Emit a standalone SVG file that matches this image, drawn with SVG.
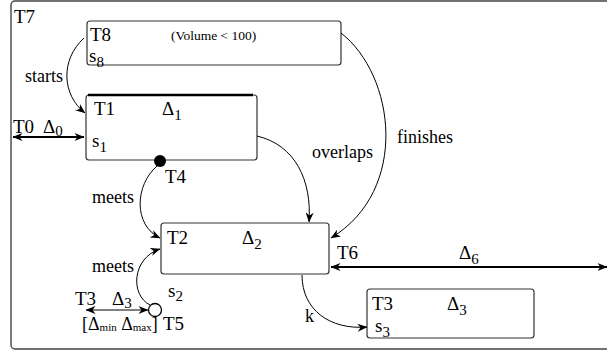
<svg xmlns="http://www.w3.org/2000/svg" width="607" height="352" viewBox="0 0 607 352">
<style>
text{font-family:"Liberation Serif","Times New Roman",serif;font-size:19px;fill:#000}
.w{font-size:18px}
.box{fill:#fff;stroke:#333;stroke-width:1.2}
.frame{fill:#fff;stroke:#444;stroke-width:1.4}
.c{fill:none;stroke:#000;stroke-width:1}
.t{fill:none;stroke:#000;stroke-width:2}
.sub{font-size:15px}
.sm{font-size:11px}
</style>
<defs>
<marker id="ah" viewBox="0 0 10 8" refX="9.5" refY="4" markerWidth="10" markerHeight="8" markerUnits="userSpaceOnUse" orient="auto-start-reverse">
<path d="M0,0 L10,4 L0,8 L3,4 z" fill="#000"/>
</marker>
</defs>
<rect class="frame" x="11" y="1" width="700" height="348" rx="4"/>
<text x="14" y="23">T7</text>
<g id="T8">
<rect class="box" x="87" y="21" width="254" height="44" rx="3"/>
<text x="90" y="41">T8</text>
<text x="171" y="40" style="font-size:13.5px">(Volume &lt; 100)</text>
<text x="89" y="62">s<tspan class="sub" dy="5">8</tspan></text>
</g>
<g id="T1">
<rect class="box" x="86" y="95" width="171" height="65" rx="3"/>
<line x1="88" y1="95" x2="253" y2="95" stroke="#000" stroke-width="2.5"/>
<text x="94" y="115">T1</text>
<text x="162" y="115">Δ<tspan class="sub" dy="5">1</tspan></text>
<text x="92" y="147">s<tspan class="sub" dy="5">1</tspan></text>
</g>
<g id="T2">
<rect class="box" x="161" y="223" width="168" height="51" rx="3"/>
<text x="167" y="244">T2</text>
<text x="242" y="244">Δ<tspan class="sub" dy="5">2</tspan></text>
</g>
<g id="T3">
<rect class="box" x="367" y="289" width="167" height="49" rx="3"/>
<text x="372" y="310">T3</text>
<text x="447" y="310">Δ<tspan class="sub" dy="5">3</tspan></text>
<text x="375" y="332">s<tspan class="sub" dy="5">3</tspan></text>
</g>
<g id="T4">
<circle cx="160" cy="161" r="6" fill="#000"/>
<text x="165" y="183">T4</text>
</g>
<g id="T5">
<circle cx="155" cy="310" r="6.5" fill="#fff" stroke="#000" stroke-width="1.3"/>
<text x="163" y="330">T5</text>
<text x="168" y="297">s<tspan class="sub" dy="4">2</tspan></text>
</g>
<g id="T0">
<text x="13" y="133">T0</text>
<text x="43" y="133">Δ<tspan class="sub" dy="3">0</tspan></text>
</g>
<g id="T3b">
<text x="75" y="305">T3</text>
<text x="112" y="305">Δ<tspan class="sub" dy="3">3</tspan></text>
<text x="82" y="330" style="font-size:18px">[Δ<tspan class="sm" dy="1">min</tspan><tspan dy="-1"> Δ</tspan><tspan class="sm" dy="1">max</tspan><tspan dy="-1">]</tspan></text>
</g>
<g id="T6">
<text x="337" y="259">T6</text>
<text x="459" y="259">Δ<tspan class="sub" dy="5">6</tspan></text>
</g>
<g id="connectors">
<path class="c" d="M84,38 C60,60 62,95 85,113" marker-end="url(#ah)"/>
<text class="w" x="25" y="82">starts</text>
<path class="c" d="M157,166 C135,185 133,225 160,238" marker-end="url(#ah)"/>
<text class="w" x="92" y="203">meets</text>
<path class="c" d="M150,305 C130,295 132,258 160,249" marker-end="url(#ah)"/>
<text class="w" x="92" y="272">meets</text>
<path class="c" d="M257,136 C295,145 312,180 309,222" marker-end="url(#ah)"/>
<text class="w" x="312" y="158">overlaps</text>
<path class="c" d="M341,33 C395,75 410,190 331,238" marker-end="url(#ah)"/>
<text class="w" x="397" y="143">finishes</text>
<path class="c" d="M302,275 C302,310 330,330 367,327" marker-end="url(#ah)"/>
<text class="w" x="305" y="322">k</text>
<path class="t" d="M13,137 L84,137" marker-start="url(#ah)" marker-end="url(#ah)"/>
<path class="c" d="M86,310 L148,310" marker-start="url(#ah)" marker-end="url(#ah)"/>
<path class="t" d="M331,267 L607,267" marker-start="url(#ah)" marker-end="url(#ah)"/>
</g>
</svg>
